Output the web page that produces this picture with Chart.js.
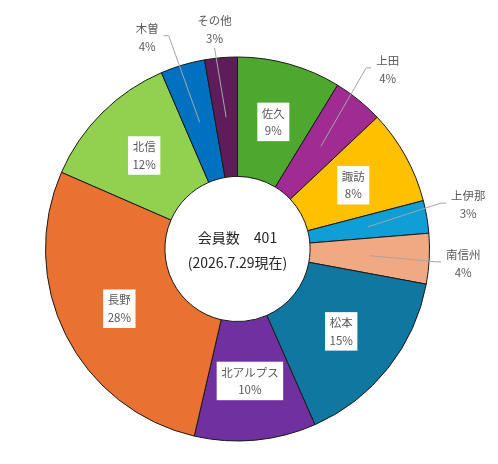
<!DOCTYPE html>
<html>
<head>
<meta charset="utf-8">
<script src="https://cdn.jsdelivr.net/npm/chart.js@4.4.1/dist/chart.umd.min.js"></script>
<style>
  html, body { margin: 0; padding: 0; background: #fff; }
  canvas { display: block; }
</style>
</head>
<body>
<canvas id="chart" width="498" height="464"></canvas>
<script>
// data
const areas = ['佐久', '上田', '諏訪', '上伊那', '南信州', '松本', '北アルプス', '長野', '北信', '木曽', 'その他'];
const members = [35, 17, 32, 11, 17, 62, 41, 112, 48, 15, 11];
const centerLines = ['会員数\u3000401', '(2026.7.29現在)'];

// styles
const colors = ['#4EA72E', '#A02B93', '#FFC000', '#0F9ED5', '#F1A983', '#0F77A0',
                '#7030A0', '#E97132', '#92D050', '#0070C0', '#5E1D5A'];
const labelFont = '11.5px "Noto Sans CJK JP", "Noto Sans", sans-serif';
const centerFont = '14px "Noto Sans CJK JP", "Noto Sans", sans-serif';
// nudges (px) for labels that sit outside the ring
const outsideNudge = {
    '上田': [4, 1],
    '上伊那': [2, -5],
    '南信州': [-6, 3],
    '木曽': [-24, 11],
    'その他': [-3, 12]
};

const total = members.reduce((a, b) => a + b, 0);

const labelPlugin = {
    id: 'sliceLabels',
    afterDatasetsDraw(chart) {
        const ctx = chart.ctx;
        const arcs = chart.getDatasetMeta(0).data;
        ctx.save();
        ctx.font = labelFont;
        ctx.textAlign = 'center';
        ctx.textBaseline = 'middle';

        arcs.forEach((arc, i) => {
            const {x, y, startAngle, endAngle, innerRadius, outerRadius} = arc.getProps(
                ['x', 'y', 'startAngle', 'endAngle', 'innerRadius', 'outerRadius'], true);
            const mid = (startAngle + endAngle) / 2;
            const midR = (innerRadius + outerRadius) / 2;
            const px = x + Math.cos(mid) * midR;
            const py = y + Math.sin(mid) * midR;
            const pct = Math.round(members[i] / total * 100) + '%';
            const name = areas[i];
            const w = Math.max(ctx.measureText(name).width, ctx.measureText(pct).width);

            if (members[i] / total >= 0.05) {
                // inside, white box
                ctx.fillStyle = '#fff';
                ctx.fillRect(px - w / 2 - 4.5, py - 19, w + 9, 38.5);
                ctx.fillStyle = '#595959';
                ctx.fillText(name, px, py - 8.5);
                ctx.fillText(pct, px, py + 9);
                return;
            }

            // outside with leader line
            const nudge = outsideNudge[name] || [0, 0];
            const lr = outerRadius + 40;
            const lx = x + Math.cos(mid) * lr + nudge[0];
            const ly = y + Math.sin(mid) * lr + nudge[1];

            ctx.strokeStyle = '#A6A6A6';
            ctx.lineWidth = 1;
            ctx.beginPath();
            const dx = px - lx;
            if (Math.abs(dx) > w / 2 + 5) {
                const side = dx > 0 ? 1 : -1;
                const sx = lx + side * (w / 2 + 5);
                ctx.moveTo(sx, ly - 2);
                ctx.lineTo(sx + side * 5, ly - 2);
            } else {
                ctx.moveTo(lx, ly + 18);
            }
            ctx.lineTo(px, py);
            ctx.stroke();

            ctx.fillStyle = '#595959';
            ctx.fillText(name, lx, ly - 9);
            ctx.fillText(pct, lx, ly + 9);
        });

        // center text
        const c = arcs[0];
        ctx.font = centerFont;
        ctx.fillStyle = '#262626';
        ctx.fillText(centerLines[0], c.x, c.y - 11);
        ctx.fillText(centerLines[1], c.x, c.y + 14);
        ctx.restore();
    }
};

const ctx = document.getElementById('chart').getContext('2d');
const chart = new Chart(ctx, {
    type: 'doughnut',
    data: {
        labels: areas,
        datasets: [{
            data: members,
            backgroundColor: colors,
            borderColor: '#1a1a1a',
            borderWidth: 1
        }]
    },
    options: {
        responsive: false,
        animation: false,
        radius: 192,
        cutout: '37.8%',
        layout: { padding: { left: 0, right: 23, top: 34, bottom: 0 } },
        plugins: {
            legend: { display: false },
            tooltip: { enabled: false }
        }
    },
    plugins: [labelPlugin]
});
</script>
</body>
</html>
